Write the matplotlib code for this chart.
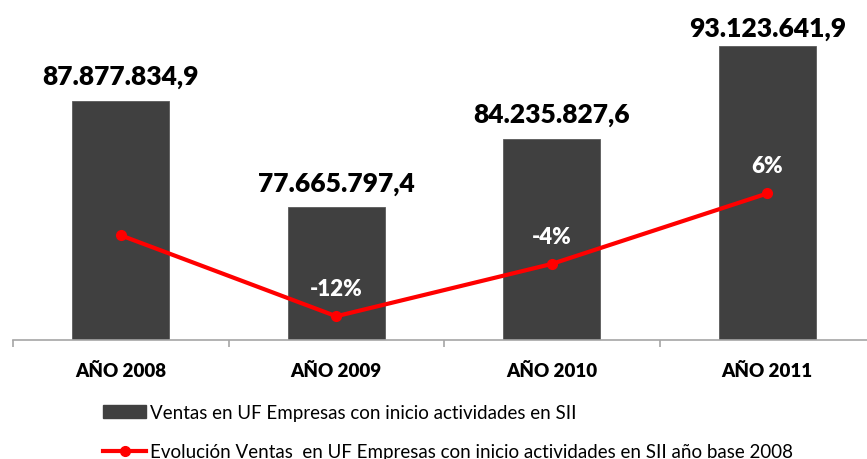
import matplotlib
matplotlib.use("Agg")
import matplotlib.pyplot as plt
import numpy as np
from matplotlib.lines import Line2D
from matplotlib.patches import Patch

plt.rcParams["font.family"] = ["Lato", "DejaVu Sans"]

years = ["AÑO 2008", "AÑO 2009", "AÑO 2010", "AÑO 2011"]
sales_uf = [87877834.9, 77665797.4, 84235827.6, 93123641.9]
growth_pct = [0.0, -11.6, -4.1, 6.0]

bar_label = "Ventas en UF Empresas con inicio actividades en SII"
line_label = "Evolución Ventas  en UF Empresas con inicio actividades en SII año base 2008"

BAR_COLOR = "#404040"
LINE_COLOR = "#ff0000"
AXIS_COLOR = "#a6a6a6"


def fmt_es(v):
    s = f"{v:,.1f}"
    return s.replace(",", "X").replace(".", ",").replace("X", ".")


fig = plt.figure(figsize=(8.67, 4.6), dpi=100)
ax = fig.add_axes([13 / 867, 119 / 460, 862 / 867, 314 / 460])

x = np.arange(len(years))
bars = ax.bar(x, sales_uf, width=0.45, color=BAR_COLOR, edgecolor="#5a5a5a",
              linewidth=0.6, zorder=2)
ax.set_ylim(65e6, 95e6)
ax.set_xlim(-0.5, len(years) - 0.5)

for xi, v in zip(x, sales_uf):
    # the top bar sits close to the frame, so its label hugs the bar
    off = 4 if v == max(sales_uf) else 9
    ax.annotate(fmt_es(v), (xi, v), xytext=(0, off), textcoords="offset points",
                ha="center", va="bottom", fontsize=19, fontweight="heavy",
                color="#000000")

# category axis: only the bottom line with ticks between categories
for side in ("top", "right", "left"):
    ax.spines[side].set_visible(False)
ax.spines["bottom"].set_color(AXIS_COLOR)
ax.spines["bottom"].set_linewidth(1.2)
ax.set_yticks([])
ax.set_xticks(x)
ax.set_xticklabels(years, fontsize=13.5, fontweight="heavy")
ax.tick_params(axis="x", which="major", length=0, pad=16)
ax.set_xticks(np.arange(-0.5, len(years)), minor=True)
ax.tick_params(axis="x", which="minor", length=5, width=1.2, color=AXIS_COLOR,
               direction="out")

ax2 = ax.twinx()
ax2.set_ylim(-15, 30)
ax2.plot(x, growth_pct, color=LINE_COLOR, linewidth=3, marker="o",
         markersize=7, zorder=3)
ax2.axis("off")

for xi, p in zip(x[1:], growth_pct[1:]):
    ax2.annotate(f"{p:.0f}%", (xi, p), xytext=(0, 20), textcoords="offset points",
                 ha="center", va="center", fontsize=16, fontweight="heavy",
                 color="white")

handles = [
    Patch(facecolor=BAR_COLOR, edgecolor=BAR_COLOR),
    Line2D([0], [0], color=LINE_COLOR, linewidth=3, marker="o", markersize=7),
]
fig.legend(handles, [bar_label, line_label], loc="upper left",
           bbox_to_anchor=(103 / 867, 1 - 405 / 460), frameon=False,
           fontsize=13.5, handlelength=2.3, handletextpad=0.2, borderpad=0,
           labelspacing=1.2, borderaxespad=0)

fig.savefig("out.png", dpi=100)
